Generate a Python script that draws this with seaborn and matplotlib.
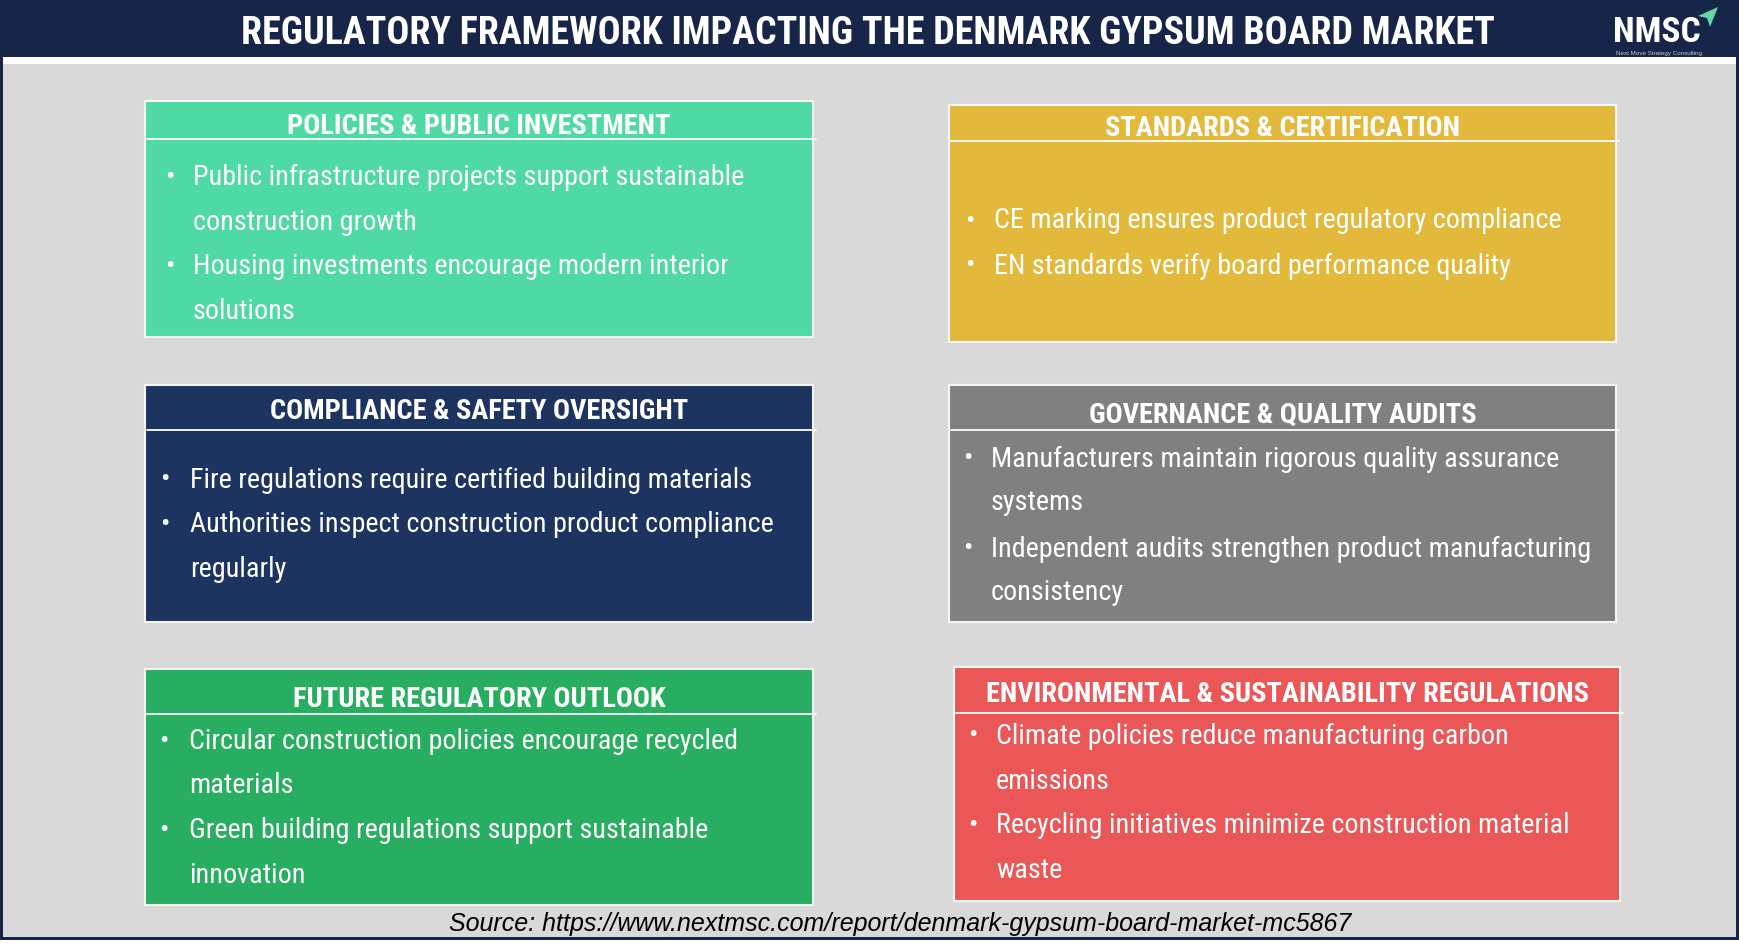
import matplotlib
matplotlib.use("Agg")
import matplotlib.pyplot as plt
from matplotlib import font_manager
from matplotlib.patches import Rectangle, Polygon
import seaborn as sns

# ---- content ----
title = "REGULATORY FRAMEWORK IMPACTING THE DENMARK GYPSUM BOARD MARKET"
source = "Source: https://www.nextmsc.com/report/denmark-gypsum-board-market-mc5867"
logo_text = "NMSC"
logo_sub = "Next Move Strategy Consulting"

headings = [
    "POLICIES & PUBLIC INVESTMENT",
    "STANDARDS & CERTIFICATION",
    "COMPLIANCE & SAFETY OVERSIGHT",
    "GOVERNANCE & QUALITY AUDITS",
    "FUTURE REGULATORY OUTLOOK",
    "ENVIRONMENTAL & SUSTAINABILITY REGULATIONS",
]

# each bullet is a list of wrapped lines
bullets = [
    [["Public infrastructure projects support sustainable", "construction growth"],
     ["Housing investments encourage modern interior", "solutions"]],
    [["CE marking ensures product regulatory compliance"],
     ["EN standards verify board performance quality"]],
    [["Fire regulations require certified building materials"],
     ["Authorities inspect construction product compliance", "regularly"]],
    [["Manufacturers maintain rigorous quality assurance", "systems"],
     ["Independent audits strengthen product manufacturing", "consistency"]],
    [["Circular construction policies encourage recycled", "materials"],
     ["Green building regulations support sustainable", "innovation"]],
    [["Climate policies reduce manufacturing carbon", "emissions"],
     ["Recycling initiatives minimize construction material", "waste"]],
]

box_colors = ["#4fdaa5", "#e2b93b", "#1d3461", "#808080", "#27ae60", "#eb5757"]

# ---- layout (pixel coords, y down) ----
layout = [
    dict(rect=(145, 102, 813, 338), head_y=125, line_y=140, rows=[174, 220, 264, 309], dot_x=170, text_x=193),
    dict(rect=(949, 106, 1616, 343), head_y=128, line_y=142, rows=[218, 263], dot_x=970, text_x=994),
    dict(rect=(145, 386, 813, 623), head_y=411, line_y=431, rows=[477, 522, 567], dot_x=165, text_x=190),
    dict(rect=(949, 386, 1616, 623), head_y=414, line_y=431, rows=[456, 500, 546, 590], dot_x=968, text_x=991),
    dict(rect=(145, 670, 813, 906), head_y=699, line_y=715, rows=[739, 783, 828, 873], dot_x=164, text_x=189),
    dict(rect=(954, 668, 1620, 902), head_y=694, line_y=714, rows=[733, 779, 823, 868], dot_x=973, text_x=996),
]

W, H = 1739, 953
NAVY = "#172548"
BG = "#d9d9d9"
DY = 3  # body text sits a little lower than its measured centre


def main():
    sns.set_theme(style="white")
    installed = {f.name for f in font_manager.fontManager.ttflist}
    cond = next(f for f in ["Roboto Condensed", "Liberation Sans Narrow", "Roboto", "DejaVu Sans"]
                if f in installed)
    plain = "Liberation Sans" if "Liberation Sans" in installed else "DejaVu Sans"

    fig = plt.figure(figsize=(W / 100, H / 100), dpi=100, facecolor="white")
    ax = fig.add_axes([0, 0, 1, 1])
    ax.set_xlim(0, W)
    ax.set_ylim(H, 0)
    ax.axis("off")

    fig.canvas.draw()
    renderer = fig.canvas.get_renderer()

    def fit_size(s, width, **kw):
        t = ax.text(0, 0, s, fontsize=20, **kw)
        w = t.get_window_extent(renderer).width
        t.remove()
        return 20 * width / w

    body_fs = fit_size(bullets[0][0][0], 549, family=cond)
    head_fs = (fit_size(headings[0], 383, family=cond, weight="bold")
               + fit_size(headings[5], 604, family=cond, weight="bold")) / 2
    title_fs = fit_size(title, 1253, family=cond, weight="bold")
    src_fs = fit_size(source, 900, family=plain, style="italic")
    logo_fs = fit_size(logo_text, 88, family=cond, weight="bold")

    # frame, header band and background
    ax.add_patch(Rectangle((0, 0), W, 941, facecolor=NAVY, edgecolor="none"))
    ax.add_patch(Rectangle((3, 58), W - 6, 7, facecolor="white", edgecolor="none"))
    ax.add_patch(Rectangle((3, 65), W - 6, 873, facecolor=BG, edgecolor="none"))

    ax.text(868, 31 + DY, title, fontsize=title_fs, family=cond, weight="bold",
            color="white", ha="center", va="center")

    # logo
    ax.text(1657, 32, logo_text, fontsize=logo_fs, family=cond, weight="bold",
            color="white", ha="center", va="center")
    ax.add_patch(Polygon([(1698, 17), (1718, 8), (1710, 28), (1707, 19)],
                         closed=True, facecolor="#62d6a3", edgecolor="none"))
    ax.text(1659, 53, logo_sub, fontsize=4.5, family=plain, color="#c8ccd6",
            ha="center", va="center")

    # boxes
    for head, items, color, lay in zip(headings, bullets, box_colors, layout):
        x0, y0, x1, y1 = lay["rect"]
        ax.add_patch(Rectangle((x0, y0), x1 - x0, y1 - y0, facecolor=color,
                               edgecolor="#f2f7f4", linewidth=1.5))
        ax.text((x0 + x1) / 2, lay["head_y"] + 1, head, fontsize=head_fs, family=cond,
                weight="bold", color="white", ha="center", va="center")
        ax.plot([x0 + 2, x1 + 3], [lay["line_y"]] * 2, color="white", lw=1.3)
        rows = iter(lay["rows"])
        for item in items:
            for k, line in enumerate(item):
                y = next(rows) + DY
                if k == 0:
                    ax.text(lay["dot_x"], y, "\u2022", fontsize=body_fs, family=cond,
                            color="white", ha="center", va="center")
                ax.text(lay["text_x"], y, line, fontsize=body_fs, family=cond,
                        color="white", ha="left", va="center")

    ax.text(900, 922 + 2, source, fontsize=src_fs, family=plain, style="italic",
            color="black", ha="center", va="center")

    fig.savefig("out.png", dpi=100, facecolor="white")


if __name__ == "__main__":
    main()
